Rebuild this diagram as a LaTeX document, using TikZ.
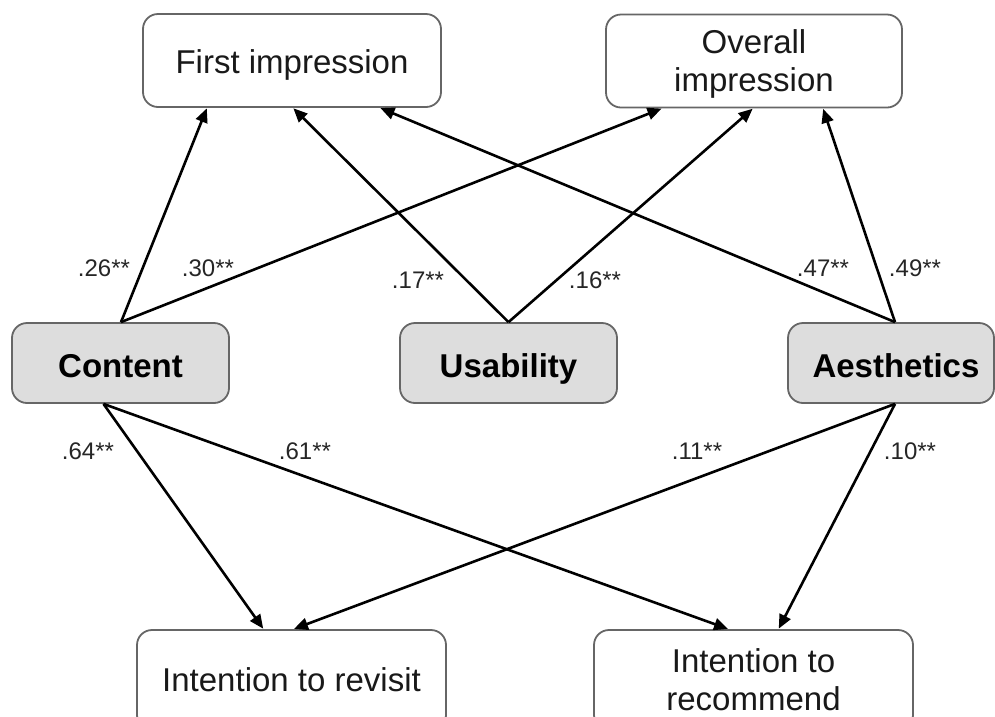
\documentclass[tikz,border=0pt]{standalone}
\usepackage{fontspec}
\setmainfont{Liberation Sans}
\usetikzlibrary{arrows.meta,calc}
\definecolor{boxfill}{HTML}{DDDDDD}
\definecolor{boxline}{HTML}{666666}
\tikzset{
  outbox/.style={draw=boxline, line width=1.8pt, rounded corners=15pt, fill=white,
    align=center, font=\fontsize{33}{38}\selectfont, text=black!90, inner sep=0pt},
  inbox/.style={draw=boxline, line width=1.8pt, rounded corners=15pt, fill=boxfill,
    align=center, font=\fontsize{33}{38}\selectfont\bfseries, text=black, inner sep=0pt,
    minimum height=80pt, text height=32pt, text depth=4pt},
  path/.style={line width=2.6pt, -{Triangle[length=14pt,width=12pt]}, shorten >=0.5pt},
  coef/.style={font=\fontsize{24}{27}\selectfont, text=black!85, inner sep=0pt}
}
\begin{document}
\begin{tikzpicture}[x=1pt,y=-1pt]
\useasboundingbox (0,0) rectangle (995,716);
\clip (0,0) rectangle (995,716);
\fill[white] (0,0) rectangle (995,716);

% nodes
\node[outbox, minimum width=298pt, minimum height=93pt, text height=32pt, text depth=7pt] (fi) at (292,60.5) {First impression};
\node[outbox, minimum width=296pt, minimum height=93pt] (oi) at (754,61) {\rule{0pt}{30pt}Overall\\impression};
\node[inbox, minimum width=217pt] (co) at (120.5,363) {Content};
\node[inbox, minimum width=217pt] (us) at (508.5,363) {Usability};
\node[inbox, minimum width=206pt] (ae) at (891,363) {\hspace*{10pt}Aesthetics};
\node[outbox, minimum width=309pt, minimum height=100pt] (rv) at (291.5,680) {Intention to revisit};
\node[outbox, minimum width=319pt, minimum height=100pt] (rc) at (753.5,680) {Intention to\\recommend};

% paths to top outcomes
\draw[path] ([xshift=0.5pt]co.north) -- ([xshift=-85pt]fi.south);
\draw[path] ([xshift=0.5pt]co.north) -- ([xshift=-92pt]oi.south);
\draw[path] (us.north) -- ([xshift=1pt]fi.south);
\draw[path] (us.north) -- ([xshift=-1pt]oi.south);
\draw[path] ([xshift=4pt]ae.north) -- ([xshift=88pt]fi.south);
\draw[path] ([xshift=4pt]ae.north) -- ([xshift=69pt]oi.south);

% paths to bottom outcomes
\draw[path] ([xshift=-17pt]co.south) -- ([xshift=-28pt]rv.north);
\draw[path] ([xshift=-17pt]co.south) -- ([xshift=-25pt]rc.north);
\draw[path] ([xshift=4pt]ae.south) -- ([xshift=2pt]rv.north);
\draw[path] ([xshift=4pt]ae.south) -- ([xshift=25pt]rc.north);

% coefficients
\node[coef] (c1) at (104,268) {.26**};
\node[coef] (c2) at (208,268) {.30**};
\node[coef] (c3) at (418,280) {.17**};
\node[coef] (c4) at (595,280) {.16**};
\node[coef] (c5) at (823,268) {.47**};
\node[coef] (c6) at (915,268) {.49**};
\node[coef] (c7) at (88,451) {.64**};
\node[coef] (c8) at (305,451) {.61**};
\node[coef] (c9) at (697,451) {.11**};
\node[coef] (c10) at (910,451) {.10**};
\end{tikzpicture}
\end{document}
